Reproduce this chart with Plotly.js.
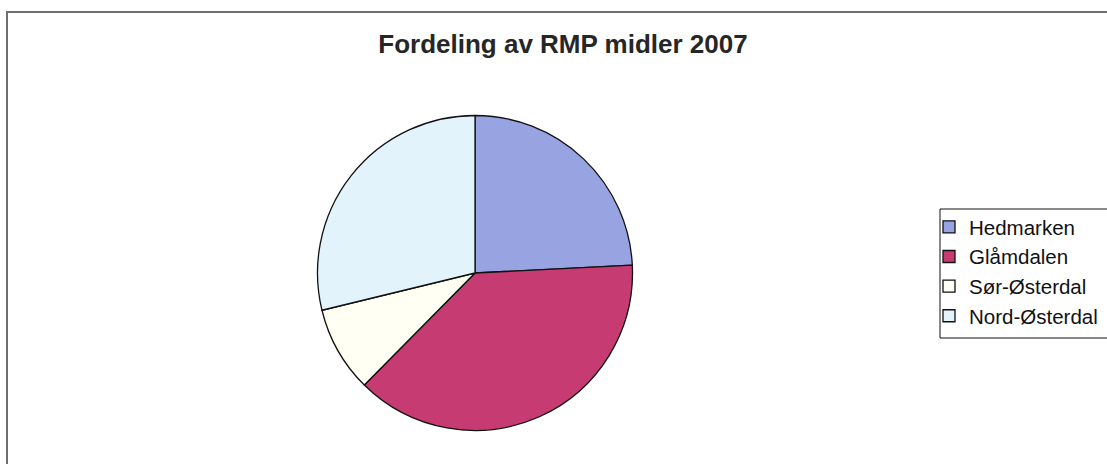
<!DOCTYPE html>
<html>
<head>
<meta charset="utf-8">
<script src="https://cdn.plot.ly/plotly-3.0.1.min.js"></script>
<style>
  html, body { margin: 0; padding: 0; background: #ffffff; }
  #chart { width: 1107px; height: 464px; }
</style>
</head>
<body>
<div id="chart"></div>
<script>
const chartTitle = "Fordeling av RMP midler 2007";
const regions = ["Hedmarken", "Glåmdalen", "Sør-Østerdal", "Nord-Østerdal"];
const shares = [24.2, 38.2, 8.8, 28.8];
const sliceColors = ["#98a3e2", "#c63b72", "#fffff3", "#e2f3fc"];

const W = 1107, H = 464;
const cx = 475, cy = 273, r = 157.5;

const trace = {
  type: "pie",
  labels: regions,
  values: shares,
  sort: false,
  direction: "clockwise",
  rotation: 0,
  textinfo: "none",
  hoverinfo: "label+percent",
  marker: { colors: sliceColors, line: { color: "#111111", width: 1.3 } },
  domain: { x: [(cx - r) / W, (cx + r) / W], y: [1 - (cy + r) / H, 1 - (cy - r) / H] }
};

const layout = {
  width: W, height: H,
  margin: { l: 0, r: 0, t: 0, b: 0, autoexpand: false },
  paper_bgcolor: "#ffffff",
  font: { family: "Liberation Sans, Arial, sans-serif", color: "#1a1a1a" },
  title: {
    text: "<b>" + chartTitle + "</b>",
    font: { size: 26, family: "Liberation Sans, Arial, sans-serif", color: "#262626" },
    x: 563 / W, xanchor: "center", xref: "paper",
    y: 1 - 44 / H, yanchor: "middle", yref: "paper"
  },
  showlegend: true,
  legend: {
    x: 929 / W, xanchor: "left",
    y: 1 - 207 / H, yanchor: "top",
    bgcolor: "rgba(0,0,0,0)",
    borderwidth: 0,
    font: { size: 20.5, family: "Liberation Sans, Arial, sans-serif", color: "#111111" }
  },
  shapes: [
    { type: "path", xref: "paper", yref: "paper",
      path: "M " + (7 / W) + " 0 L " + (7 / W) + " " + (1 - 12 / H) + " L 1.01 " + (1 - 12 / H),
      line: { color: "#6e6e6e", width: 2 } },
    { type: "rect", xref: "paper", yref: "paper",
      x0: 940 / W, x1: 1.02, y0: 1 - 338 / H, y1: 1 - 209 / H,
      line: { color: "#111111", width: 1 }, fillcolor: "rgba(0,0,0,0)" }
  ]
};

Plotly.newPlot("chart", [trace], layout, { displayModeBar: false, staticPlot: true });
</script>
</body>
</html>
